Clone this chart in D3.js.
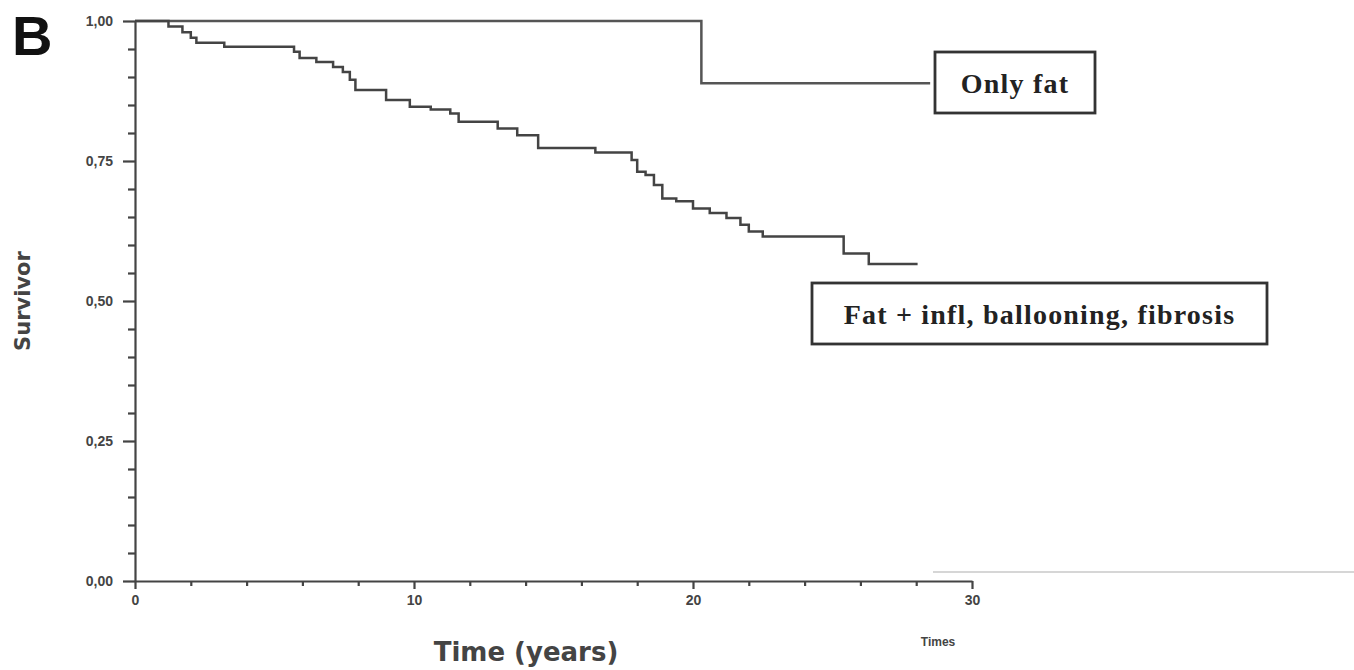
<!DOCTYPE html>
<html>
<head>
<meta charset="utf-8">
<script src="https://cdn.jsdelivr.net/npm/d3@7"></script>
<style>
  body { margin: 0; background: #fff; }
  svg { display: block; }
  .tick text { font-family: "Liberation Sans", Arial, sans-serif; font-weight: bold; fill: #444; }
</style>
</head>
<body>
<div id="chart"></div>
<script>
// survival curves (time in years, survival after each step)
const onlyFatTimes = [0, 20.3, 28.5];
const onlyFatSurv = [1.0, 0.889, 0.889];

const fatInflTimes = [0, 1.2, 1.7, 2.0, 2.2, 3.2, 5.7, 5.9, 6.5, 7.1, 7.45, 7.7, 7.9, 9.0, 9.85,
    10.6, 11.3, 11.6, 13.0, 13.7, 14.45, 16.5, 17.8, 18.0, 18.3, 18.6, 18.9, 19.4, 20.0,
    20.6, 21.2, 21.7, 22.0, 22.5, 25.4, 26.3, 28.05];
const fatInflSurv = [1.0, 0.99, 0.98, 0.97, 0.961, 0.954, 0.945, 0.934, 0.927, 0.918, 0.909, 0.895, 0.877, 0.859, 0.847,
    0.842, 0.835, 0.820, 0.808, 0.796, 0.773, 0.765, 0.752, 0.731, 0.725, 0.707, 0.683, 0.678, 0.665,
    0.657, 0.648, 0.636, 0.624, 0.615, 0.585, 0.566, 0.566];

const yMajor = [0, 0.25, 0.5, 0.75, 1];
const yMajorLabels = ["0,00", "0,25", "0,50", "0,75", "1,00"];
const xMajor = [0, 10, 20, 30];

const width = 1354, height = 670;
const svg = d3.select("#chart").append("svg")
    .attr("width", width)
    .attr("height", height);

const x = d3.scaleLinear().domain([0, 30]).range([135, 972]);
const y = d3.scaleLinear().domain([0, 1]).range([581, 21]);

// faint scan line to the right of the axis
svg.append("line")
    .attr("x1", 933).attr("x2", width)
    .attr("y1", 572).attr("y2", 572)
    .attr("stroke", "#c8c8c8")
    .attr("stroke-width", 1.5);

// y axis: minor ticks then major ticks with labels
const yMinor = d3.range(0, 1.0001, 0.05).filter(v => !yMajor.some(m => Math.abs(m - v) < 1e-6));
svg.append("g")
    .attr("transform", "translate(135,0)")
    .call(d3.axisLeft(y).tickValues(yMinor).tickSize(7).tickFormat(""))
    .call(g => g.select(".domain").remove());

const yAxis = svg.append("g")
    .attr("transform", "translate(135,0)")
    .call(d3.axisLeft(y).tickValues(yMajor).tickSize(12).tickSizeOuter(0).tickPadding(10)
        .tickFormat((d, i) => yMajorLabels[i]));
yAxis.selectAll("text").attr("font-size", 14).attr("dy", "0.35em");

// x axis
const xMinor = d3.range(0, 30.001, 2).filter(v => v % 10 !== 0);
svg.append("g")
    .attr("transform", "translate(0,581)")
    .call(d3.axisBottom(x).tickValues(xMinor).tickSize(5).tickFormat(""))
    .call(g => g.select(".domain").remove());

const xAxis = svg.append("g")
    .attr("transform", "translate(0,581)")
    .call(d3.axisBottom(x).tickValues(xMajor).tickSize(8).tickSizeOuter(0).tickPadding(6)
        .tickFormat(d3.format("d")));
xAxis.selectAll("text").attr("font-size", 14);

svg.selectAll(".domain, .tick line")
    .attr("stroke", "#444")
    .attr("stroke-width", 2.2);

// curves
const line = d3.line()
    .x(d => x(d[0]))
    .y(d => y(d[1]))
    .curve(d3.curveStepAfter);

svg.append("path")
    .datum(d3.zip(onlyFatTimes, onlyFatSurv))
    .attr("d", line)
    .attr("fill", "none")
    .attr("stroke", "#555")
    .attr("stroke-width", 2.5);

svg.append("path")
    .datum(d3.zip(fatInflTimes, fatInflSurv))
    .attr("d", line)
    .attr("fill", "none")
    .attr("stroke", "#444")
    .attr("stroke-width", 2.5);

// label boxes
const boxes = [
    { text: "Only fat", x: 935, y: 52, w: 160, h: 61 },
    { text: "Fat + infl, ballooning, fibrosis", x: 812, y: 283, w: 455, h: 61 }
];
boxes.forEach(b => {
    svg.append("rect")
        .attr("x", b.x).attr("y", b.y)
        .attr("width", b.w).attr("height", b.h)
        .attr("fill", "#fff")
        .attr("stroke", "#333")
        .attr("stroke-width", 2.8);
    svg.append("text")
        .attr("x", b.x + b.w / 2)
        .attr("y", b.y + b.h / 2 + 1)
        .attr("dy", "0.35em")
        .attr("text-anchor", "middle")
        .attr("font-family", "'Liberation Serif', 'Times New Roman', serif")
        .attr("font-weight", "bold")
        .attr("font-size", 28)
        .attr("letter-spacing", 1.2)
        .attr("fill", "#222")
        .text(b.text);
});

// titles
svg.append("text")
    .attr("x", 12).attr("y", 55)
    .attr("font-family", "'Liberation Sans', Arial, sans-serif")
    .attr("font-weight", "bold")
    .attr("font-size", 56)
    .attr("fill", "#111")
    .text("B");

svg.append("text")
    .attr("transform", "translate(30,301) rotate(-90)")
    .attr("text-anchor", "middle")
    .attr("font-family", "'DejaVu Sans', Verdana, sans-serif")
    .attr("font-weight", "bold")
    .attr("font-size", 21)
    .attr("fill", "#444")
    .text("Survivor");

svg.append("text")
    .attr("x", 526).attr("y", 661)
    .attr("text-anchor", "middle")
    .attr("font-family", "'DejaVu Sans', Verdana, sans-serif")
    .attr("font-weight", "bold")
    .attr("font-size", 26)
    .attr("fill", "#444")
    .text("Time (years)");

svg.append("text")
    .attr("x", 938).attr("y", 646)
    .attr("text-anchor", "middle")
    .attr("font-family", "'Liberation Sans', Arial, sans-serif")
    .attr("font-weight", "bold")
    .attr("font-size", 12)
    .attr("fill", "#444")
    .text("Times");
</script>
</body>
</html>
